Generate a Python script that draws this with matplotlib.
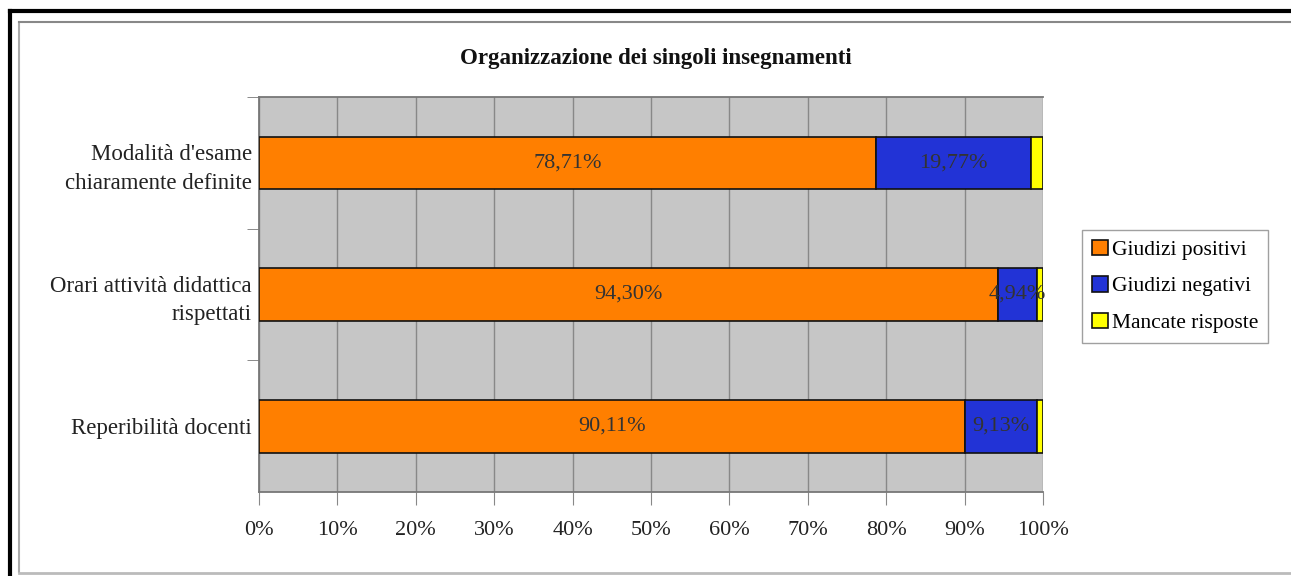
import matplotlib.pyplot as plt
import numpy as np
from matplotlib.lines import Line2D

plt.rcParams['font.family'] = ['Liberation Serif', 'DejaVu Serif']

# Data
categorie = ['Reperibilità docenti',
             'Orari attività didattica\nrispettati',
             "Modalità d'esame\nchiaramente definite"]
positivi = [90.11, 94.30, 78.71]
negativi = [9.13, 4.94, 19.77]
mancate = [0.76, 0.76, 1.52]
xticks = np.arange(0, 101, 10)

c_pos = '#FF7F00'
c_neg = '#2233D6'
c_man = '#FFFF00'

fig = plt.figure(figsize=(12.91, 5.76), dpi=100)
ax = fig.add_axes([0.2006, 0.1458, 0.6073, 0.6858])
ax.set_facecolor('#C6C6C6')

y = np.arange(len(categorie))
h = 0.4
pos = np.array(positivi)
neg = np.array(negativi)
man = np.array(mancate)

b1 = ax.barh(y, pos, height=h, color=c_pos, edgecolor='#111111', linewidth=1.2,
             label='Giudizi positivi', zorder=3)
b2 = ax.barh(y, neg, left=pos, height=h, color=c_neg, edgecolor='#111111',
             linewidth=1.2, label='Giudizi negativi', zorder=3)
b3 = ax.barh(y, man, left=pos + neg, height=h, color=c_man, edgecolor='#111111',
             linewidth=1.2, label='Mancate risposte', zorder=3)

fmt = lambda v: f'{v:.2f}%'.replace('.', ',')
for i in range(len(categorie)):
    ax.text(pos[i] / 2, y[i], fmt(pos[i]), ha='center', va='center',
            fontsize=16, color='#333333', zorder=4)
    ax.text(pos[i] + neg[i] / 2, y[i], fmt(neg[i]), ha='center', va='center',
            fontsize=16, color='#333333', zorder=4)

ax.set_xlim(0, 100)
ax.set_ylim(-0.5, len(categorie) - 0.5)
ax.set_xticks(xticks)
ax.set_xticklabels([f'{t}%' for t in xticks], fontsize=16, color='#222222')
ax.grid(axis='x', color='#888888', linewidth=1, zorder=0)
ax.set_axisbelow(True)

ax.set_yticks(y)
ax.set_yticklabels(categorie, fontsize=16.5, color='#222222', linespacing=1.45)
ax.tick_params(axis='y', length=0, pad=5)
ax.set_yticks([0.5, 1.5, 2.5], minor=True)
ax.tick_params(axis='y', which='minor', length=9, color='#777777')
ax.tick_params(axis='x', length=9, color='#888888', pad=12)

for s in ['left', 'bottom', 'top']:
    ax.spines[s].set_color('#777777')
    ax.spines[s].set_linewidth(1.3)
ax.spines['right'].set_visible(False)

fig.text(0.508, 0.898, 'Organizzazione dei singoli insegnamenti', ha='center',
         va='center', fontsize=16.5, fontweight='bold', color='#111111')

leg = fig.legend(handles=[b1, b2, b3], loc='center left',
                 bbox_to_anchor=(0.838, 0.503), fontsize=15.5, frameon=True,
                 fancybox=False, edgecolor='#888888', handlelength=0.75,
                 handleheight=0.75, handletextpad=0.2, labelspacing=0.75,
                 borderpad=0.45, borderaxespad=0)
leg.get_frame().set_linewidth(1)

# chart frame
W, H = 1291, 576
fig.add_artist(Line2D([10 / W, 10 / W], [0, 1 - 11 / H], color='black', lw=3))
fig.add_artist(Line2D([10 / W, 1], [1 - 11 / H, 1 - 11 / H], color='black', lw=3))
fig.add_artist(Line2D([19 / W, 19 / W], [1 - 572 / H, 1 - 22 / H], color='#AAAAAA', lw=1.5))
fig.add_artist(Line2D([19 / W, 1], [1 - 22 / H, 1 - 22 / H], color='#888888', lw=1.5))
fig.add_artist(Line2D([19 / W, 1], [1 - 573 / H, 1 - 573 / H], color='#BBBBBB', lw=2))

fig.savefig('out.png', dpi=100)
